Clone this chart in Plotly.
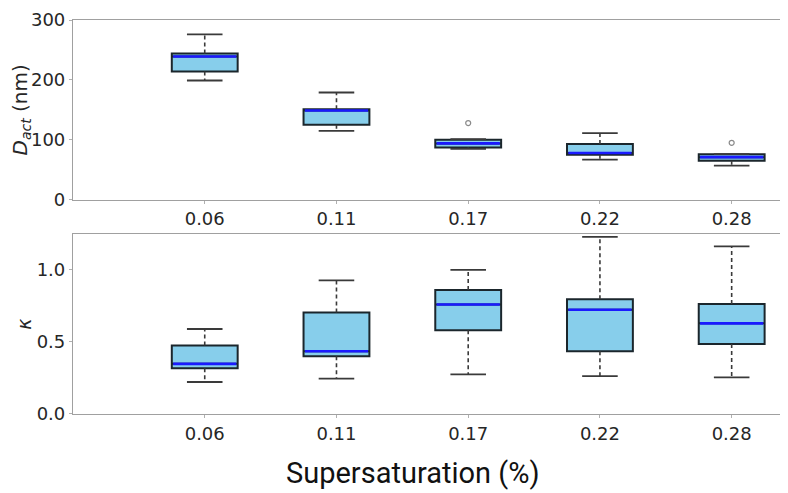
import plotly.graph_objects as go
from plotly.subplots import make_subplots

categories = ["0.06", "0.11", "0.17", "0.22", "0.28"]
positions = [1, 2, 3, 4, 5]

# Top panel: D_act (nm)
d_lower = [199, 115, 85, 67, 57]
d_q1 = [214, 125, 87, 75, 65]
d_median = [239, 149, 94, 78, 71]
d_q3 = [244, 151, 100, 93, 76]
d_upper = [276, 179, 101, 111, 76]
d_outlier_x = [3, 5]
d_outlier_y = [128, 95]

# Bottom panel: kappa
k_lower = [0.222, 0.245, 0.275, 0.263, 0.254]
k_q1 = [0.318, 0.400, 0.581, 0.435, 0.485]
k_median = [0.348, 0.435, 0.760, 0.723, 0.629]
k_q3 = [0.476, 0.705, 0.861, 0.797, 0.764]
k_upper = [0.590, 0.927, 1.000, 1.229, 1.163]

BOX_W = 0.5
CAP_HALF = 0.135
FILL = "#87CEEB"
EDGE = "#1b262c"
MED = "#1a1aff"
WHISK = "#3a3a3a"

fig = make_subplots(rows=2, cols=1, shared_xaxes=False, vertical_spacing=0.0)


def add_panel(row, lower, q1, med, q3, upper, out_x=None, out_y=None):
    fig.add_trace(go.Box(
        x=positions, q1=q1, median=med, q3=q3, lowerfence=q1, upperfence=q3,
        width=BOX_W, fillcolor=FILL, line=dict(color=EDGE, width=2),
        whiskerwidth=0, showlegend=False, hoverinfo="skip", boxpoints=False,
    ), row=row, col=1)
    # dashed whiskers
    wx, wy = [], []
    for p, lo, a, b, hi in zip(positions, lower, q1, q3, upper):
        wx += [p, p, None, p, p, None]
        wy += [b, hi, None, a, lo, None]
    fig.add_trace(go.Scatter(x=wx, y=wy, mode="lines",
                             line=dict(color=WHISK, width=1.6, dash="4px,3px"),
                             showlegend=False, hoverinfo="skip"), row=row, col=1)
    # caps
    cx, cy = [], []
    for p, lo, hi in zip(positions, lower, upper):
        cx += [p - CAP_HALF, p + CAP_HALF, None, p - CAP_HALF, p + CAP_HALF, None]
        cy += [hi, hi, None, lo, lo, None]
    fig.add_trace(go.Scatter(x=cx, y=cy, mode="lines",
                             line=dict(color=WHISK, width=1.8),
                             showlegend=False, hoverinfo="skip"), row=row, col=1)
    # medians
    mx, my = [], []
    for p, m in zip(positions, med):
        mx += [p - BOX_W / 2 + 0.01, p + BOX_W / 2 - 0.01, None]
        my += [m, m, None]
    fig.add_trace(go.Scatter(x=mx, y=my, mode="lines",
                             line=dict(color=MED, width=2.6),
                             showlegend=False, hoverinfo="skip"), row=row, col=1)
    if out_x:
        fig.add_trace(go.Scatter(x=out_x, y=out_y, mode="markers",
                                 marker=dict(symbol="circle-open", size=5,
                                             color="#8a8a8a", line=dict(width=1.2)),
                                 showlegend=False, hoverinfo="skip"), row=row, col=1)


add_panel(1, d_lower, d_q1, d_median, d_q3, d_upper, d_outlier_x, d_outlier_y)
add_panel(2, k_lower, k_q1, k_median, k_q3, k_upper)

tickfont = dict(family="DejaVu Sans", size=18, color="#262626")
axis_common = dict(showline=True, linecolor="#a0a0a0", linewidth=1.2,
                   showgrid=False, zeroline=False, ticks="outside", ticklen=3,
                   tickcolor="#b0b0b0", tickfont=tickfont, ticklabeloverflow="allow")

for ax in ["xaxis", "xaxis2"]:
    fig.layout[ax].update(range=[0, 5.42], tickvals=positions, ticktext=categories,
                          mirror=True, **axis_common)
fig.layout.yaxis.update(domain=[0.5439, 1.0], range=[0, 300], tickvals=[0, 100, 200, 300],
                        title=dict(text="<i>D<sub>act</sub></i> (nm)",
                                   font=dict(family="DejaVu Sans", size=20, color="#262626"),
                                   standoff=7),
                        **axis_common)
fig.layout.yaxis2.update(domain=[0.0, 0.4561], range=[0, 1.247], tickvals=[0, 0.5, 1.0],
                         ticktext=["0.0", "0.5", "1.0"],
                         title=dict(text="<i>κ</i>",
                                    font=dict(family="DejaVu Sans", size=19, color="#262626"),
                                    standoff=0),
                         **axis_common)

fig.add_annotation(text="Supersaturation (%)", xref="paper", yref="paper",
                   x=0.476, y=-0.150, xanchor="center", yanchor="middle", showarrow=False,
                   font=dict(family="Roboto", size=29, color="#111111"))

fig.update_layout(width=780, height=485, margin=dict(l=65, r=1, t=7, b=79),
                  paper_bgcolor="white", plot_bgcolor="white")

fig.write_html("out.html")
